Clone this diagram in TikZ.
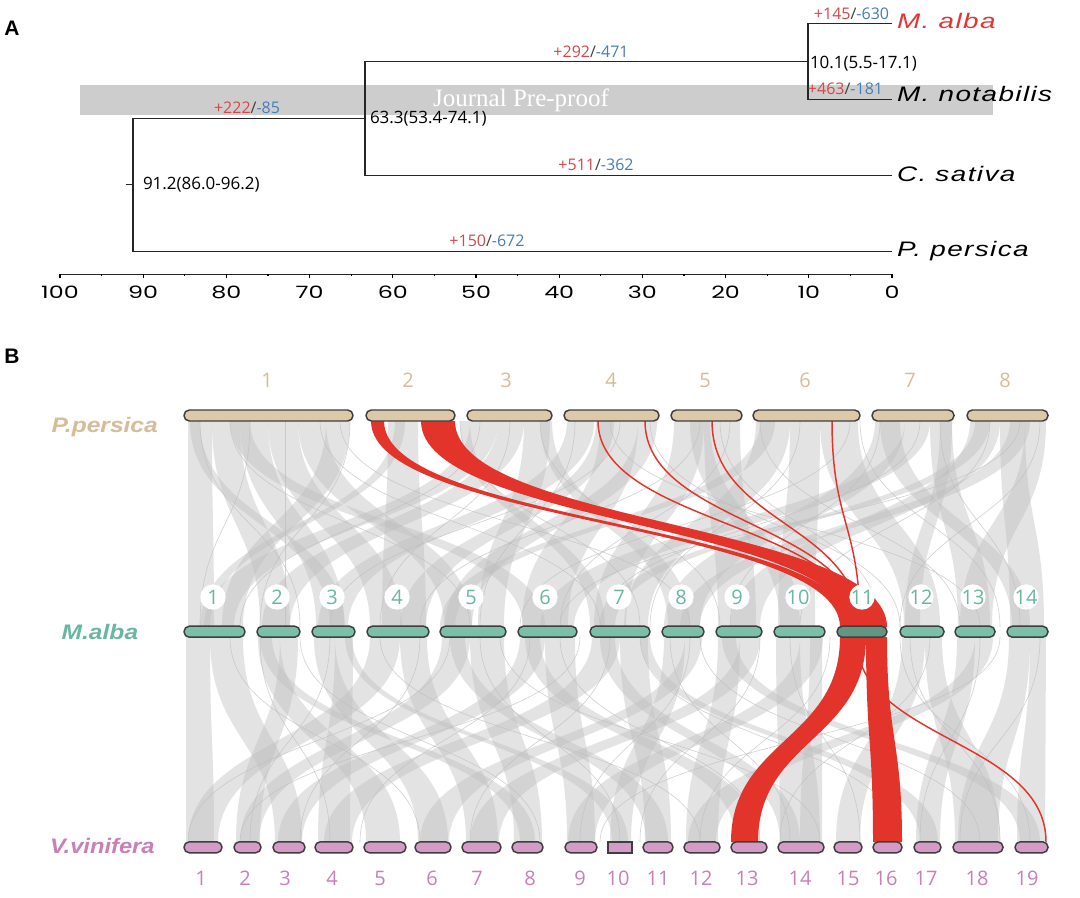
\documentclass[tikz,border=0pt]{standalone}
\usepackage{fontspec}
\setmainfont{Liberation Sans}
\newfontfamily\osans{Open Sans}
\newfontfamily\axfont{Poppins}
\newfontfamily\wmfont{Liberation Serif}
\newfontfamily\spfont[LetterSpace=5]{Liberation Sans}
\definecolor{gainred}{RGB}{214,70,70}
\definecolor{lossblue}{RGB}{70,125,185}
\definecolor{albared}{RGB}{228,52,52}
\definecolor{linkred}{RGB}{226,52,42}
\definecolor{tanC}{RGB}{222,200,170}
\definecolor{tanT}{RGB}{214,188,152}
\definecolor{tealC}{RGB}{122,192,168}
\definecolor{tealD}{RGB}{98,150,130}
\definecolor{tealT}{RGB}{104,184,158}
\definecolor{pinkC}{RGB}{212,155,198}
\definecolor{pinkT}{RGB}{200,128,182}
\definecolor{barline}{RGB}{62,62,62}
\definecolor{wmgray}{RGB}{205,205,205}
\definecolor{linkgray}{RGB}{190,190,190}
\newcommand{\gainloss}[2]{{\color{gainred}+#1}{\color{black!75}/}{\color{lossblue}-#2}}
\newcommand{\ribT}[5]{\fill[#1] (#2,421) .. controls (#2,524) and (#4,524) .. (#4,627) -- (#5,627) .. controls (#5,524) and (#3,524) .. (#3,421) -- cycle;}
\newcommand{\ribB}[5]{\fill[#1] (#2,637) .. controls (#2,740) and (#4,740) .. (#4,842) -- (#5,842) .. controls (#5,740) and (#3,740) .. (#3,637) -- cycle;}
\newcommand{\lnT}[3]{\draw[#1] (#2,421) .. controls (#2,524) and (#3,524) .. (#3,627);}
\newcommand{\lnB}[3]{\draw[#1] (#2,637) .. controls (#2,740) and (#3,740) .. (#3,842);}
\newcommand{\chrom}[4]{\draw[chr, fill=#4] (#1,{#3-5.5}) rectangle (#2,{#3+5.5});}
\begin{document}
\begin{tikzpicture}[x=0.75pt,y=-0.75pt,
  tree/.style={line width=1.1pt, draw=black!85},
  gl/.style={fill=linkgray, fill opacity=0.42},
  gline/.style={draw=linkgray, draw opacity=0.7, line width=0.45pt},
  redlink/.style={fill=linkred},
  redline/.style={draw=linkred, line width=1.1pt},
  chr/.style={draw=barline, line width=1.1pt, rounded corners=4pt},
  lab/.style={inner sep=0pt, outer sep=0pt},
  numP/.style={lab, text=tanT, font=\osans\fontsize{15}{15}\selectfont},
  numM/.style={lab, text=tealT, font=\osans\fontsize{15}{15}\selectfont},
  numV/.style={lab, text=pinkT, font=\osans\fontsize{15}{15}\selectfont},
  spB/.style={lab, anchor=base west, font=\bfseries\itshape\fontsize{15.75}{16}\selectfont}]
\useasboundingbox (0,0) rectangle (1080,898);
\fill[white] (0,0) rectangle (1080,898);

% ---------------- Panel A ----------------
\node[lab, font=\bfseries\fontsize{15.75}{16}\selectfont] (lA) at (12,28) {A};
\fill[wmgray] (80,85) rectangle (993,115);
\node[lab, text=white, font=\wmfont\fontsize{18.75}{19}\selectfont] (wm) at (521,100) {Journal Pre-proof};

\coordinate (r) at (133,184.3);
\coordinate (n63) at (365,118.5);
\coordinate (n10) at (808,61.5);
\coordinate (tMa) at (892,23.3);
\coordinate (tMn) at (892,99.3);
\coordinate (tCs) at (892,175.7);
\coordinate (tPp) at (892,251.7);
\draw[tree] (tMa) -| (n10) |- (tMn);
\draw[tree] (n10) -| (n63) |- (tCs);
\draw[tree] (n63) -| (r) |- (tPp);
\draw[tree] (r) -- ++(-7,0);

\node[lab, anchor=west, font=\osans\fontsize{12.75}{13}\selectfont] (d91) at (143,184.3) {91.2(86.0-96.2)};
\node[lab, anchor=west, font=\osans\fontsize{12.75}{13}\selectfont] (d63) at (370,119) {63.3(53.4-74.1)};
\node[lab, anchor=west, font=\osans\fontsize{12.75}{13}\selectfont] (d10) at (810,63.3) {10.1(5.5-17.1)};

\begin{scope}[every node/.style={lab, font=\osans\fontsize{12}{12}\selectfont}]
\node (g1) at (851.5,13.3) {\gainloss{145}{630}};
\node (g2) at (845.5,88.3) {\gainloss{463}{181}};
\node (g3) at (591,51.7) {\gainloss{292}{471}};
\node (g4) at (596,165) {\gainloss{511}{362}};
\node (g5) at (247,107.3) {\gainloss{222}{85}};
\node (g6) at (487,240.7) {\gainloss{150}{672}};
\end{scope}

\begin{scope}[every node/.style={lab, anchor=base west, font=\spfont\itshape\fontsize{15.75}{16}\selectfont}]
\node[text=albared] (sMa) at (897,28.3) {\scalebox{1.33}[1]{M. alba}};
\node (sMn) at (897,101.7) {\scalebox{1.33}[1]{M. notabilis}};
\node (sCs) at (897,181.7) {\scalebox{1.33}[1]{C. sativa}};
\node (sPp) at (897,256.7) {\scalebox{1.33}[1]{P. persica}};
\end{scope}

\draw[tree] (60,274.3) coordinate (ax0) -- (892,274.3) coordinate (ax1);
\foreach \t in {0,10,...,100} {
  \draw[line width=1pt] ({892-8.32*\t},274.3) -- ++(0,3.5);
  \node[lab, font=\axfont\fontsize{12.75}{13}\selectfont] (ax\t) at ({892-8.32*\t},292) {\scalebox{1.4}[1]{\t}};
}
\foreach \t in {5,15,...,95} { \draw[line width=0.9pt] ({892-8.32*\t},274.3) -- ++(0,2.2); }

% ---------------- Panel B ----------------
\node[lab, font=\bfseries\fontsize{15.75}{16}\selectfont] (lB) at (12,356) {B};

% gray links, top
\foreach \a/\b/\c/\d in {188/212/188/214, 212/240/260/290, 240/268/316/344, 268/298/370/402,
  298/326/444/472, 326/350/222/243, 230/250/523/545, 388/418/382/426, 395/405/200/210,
  470/498/204/234, 498/524/262/290, 524/550/478/504, 567/594/318/348, 600/638/522/568,
  638/657/445/472, 674/704/594/626, 704/740/718/756, 756/790/624/648, 790/820/778/815,
  820/858/904/940, 875/905/664/700, 905/930/540/574, 930/952/958/990, 970/1000/730/760,
  1000/1025/1010/1044, 1025/1046/960/992, 596/614/400/426, 690/710/780/800, 880/900/1012/1030,
  460/470/590/605, 940/952/905/920, 1010/1030/680/700, 190/200/330/345, 540/552/668/690,
  760/775/440/455, 975/990/600/615}
  {\ribT{gl}{\a}{\b}{\c}{\d}}
\foreach \a/\b in {200/300, 230/470, 285/285, 320/600, 340/690, 480/240, 510/380, 540/720,
  575/480, 620/330, 650/900, 700/420, 730/560, 760/960, 800/650, 850/520, 880/730, 920/600,
  940/1020, 990/800, 1040/900, 1020/560, 610/980, 460/640, 250/200, 350/260, 720/880, 860/1000}
  {\lnT{gline}{\a}{\b}}

% gray links, bottom
\foreach \a/\b/\c/\d in {186/210/186/214, 210/243/275/302, 258/280/366/400, 280/298/236/260,
  314/335/418/448, 335/353/318/350, 370/400/188/218, 400/427/466/498, 442/470/240/259,
  470/504/514/542, 520/545/278/302, 545/575/567/595, 592/620/324/352, 620/648/645/671,
  664/685/610/631, 685/702/420/449, 718/740/686/718, 740/760/470/499, 776/800/780/820,
  800/823/568/595, 902/925/836/860, 925/942/955/1000, 957/975/916/940, 975/993/688/716,
  1009/1030/958/998, 1030/1046/1017/1045, 600/615/780/800, 722/736/1020/1040, 525/540/736/760,
  450/465/646/668, 640/650/920/938, 810/822/800/822, 260/272/520/535, 345/352/612/628}
  {\ribB{gl}{\a}{\b}{\c}{\d}}
\foreach \a/\b in {450/188, 230/420, 300/540, 330/250, 380/700, 420/300, 480/620, 530/360,
  560/760, 610/470, 640/900, 690/580, 700/980, 760/640, 790/860, 830/700, 910/1000, 930/780,
  980/920, 1000/600, 1040/960, 260/330, 500/820, 900/1030, 670/790, 580/240}
  {\lnB{gline}{\a}{\b}}

% red links
\ribT{redlink}{371}{384}{840}{853}
\ribT{redlink}{421}{455}{850}{887}
\lnT{redline}{598}{857}
\lnT{redline}{645}{858}
\lnT{redline}{712}{859}
\lnT{redline}{832}{860}
\ribB{redlink}{840}{866}{731}{758}
\ribB{redlink}{866}{887}{873}{902}
\lnB{redline}{856}{1046}

% chromosomes P. persica
\foreach \a/\b in {184/353, 366/455, 467/552, 564/659, 671/742, 753/860, 872/954, 967/1048}
  {\chrom{\a}{\b}{415.5}{tanC}}
% chromosomes M. alba
\foreach \a/\b in {184/245, 257/300, 312/355, 367/429, 440/506, 518/577, 590/650, 662/704,
  716/762, 774/825, 900/944, 955/995, 1007/1048}
  {\chrom{\a}{\b}{631.7}{tealC}}
\chrom{837}{887}{631.7}{tealD}
% chromosomes V. vinifera
\foreach \a/\b in {184/222, 234/261, 273/305, 315/353, 364/406, 415/451, 462/501, 512/543,
  565/597, 643/673, 684/720, 731/767, 778/824, 834/862, 873/902, 914/941, 953/1003, 1015/1048}
  {\chrom{\a}{\b}{847.3}{pinkC}}
\draw[chr, rounded corners=0pt, fill=pinkC] (608,841.8) rectangle (632,852.8);

% chromosome numbers
\foreach \x [count=\i] in {267,408,506,611,705,805,910,1005}
  {\node[numP] (p\i) at (\x,380) {\i};}
\foreach \x [count=\i] in {213,277,332,397,471,545,619,681,737,798,862,921,973,1026}
  {\fill[white] (\x,597) circle (9.5pt); \node[numM] (m\i) at (\x,597) {\i};}
\foreach \x [count=\i] in {201,245,285,332,380,432,477,530,580,618,658,701,747,800,848,886,926,977,1027}
  {\node[numV] (v\i) at (\x,878) {\i};}

% species labels
\node[spB, text=tanT] (bPp) at (51.7,432.7) {\scalebox{1.17}[1]{P.persica}};
\node[spB, text=tealT] (bMa) at (61.7,639) {\scalebox{1.17}[1]{M.alba}};
\node[spB, text=pinkT] (bVv) at (50,853.3) {\scalebox{1.13}[1]{V.vinifera}};
\end{tikzpicture}
\end{document}
